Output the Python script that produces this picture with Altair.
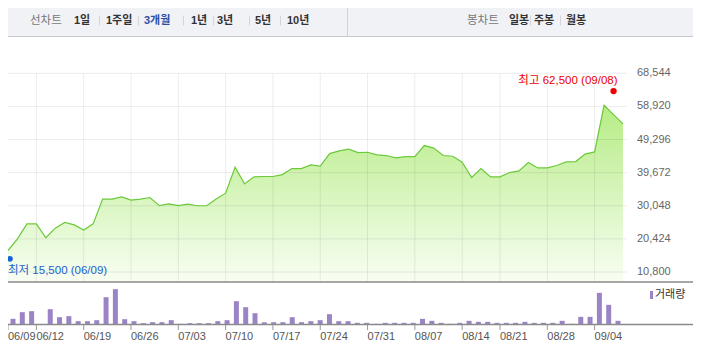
import altair as alt
import pandas as pd

# ---------------- data ----------------
prices = [17050, 20450, 24800, 24800, 20750, 23550, 25200, 24500, 23000, 24800,
          32000, 32000, 32650, 31700, 32000, 32450, 30100, 30600, 30100, 30550,
          30050, 30050, 32050, 33700, 41250, 36400, 38450, 38550, 38550, 39100,
          40850, 40850, 41950, 41550, 45200, 46000, 46500, 45500, 45600, 44850,
          44650, 43950, 44350, 44350, 47550, 46800, 44650, 44450, 42700, 38250,
          40850, 38450, 38450, 39700, 40200, 42600, 41050, 41050, 41750, 42800,
          42900, 45050, 45700, 59250, 56550, 53850]
volumes = [17, 37, 40, 0, 46, 22, 25, 10, 10, 13,
           82, 106, 16, 10, 4, 7, 7, 13, 2, 4,
           4, 4, 10, 13, 70, 52, 34, 7, 7, 7,
           22, 7, 10, 13, 31, 10, 10, 5, 5, 2,
           5, 5, 5, 5, 17, 11, 5, 2, 5, 11,
           8, 8, 5, 5, 5, 8, 5, 5, 5, 11,
           2, 23, 23, 95, 59, 11]
price_ticks = [10800, 20424, 30048, 39672, 49296, 58920, 68544]
date_labels = ["06/09", "06/12", "06/19", "06/26", "07/03", "07/10", "07/17",
               "07/24", "07/31", "08/07", "08/14", "08/21", "08/28", "09/04"]
date_index = [0, 3, 8, 13, 18, 23, 28, 33, 38, 43, 48, 52, 57, 62]
min_label, min_value, min_index = "최저 15,500 (06/09)", 15500, 0
max_label, max_value, max_index = "최고 62,500 (09/08)", 62500, 64
line_title = "선차트"
period_menu = ["1일", "1주일", "3개월", "1년", "3년", "5년", "10년"]
candle_title = "봉차트"
candle_menu = ["일봉", "주봉", "월봉"]
legend_label = "거래량"

# ---------------- layout ----------------
W, H = 685, 338
X_RANGE = [0, 615]
PRICE_DOMAIN = [7900, 68544]
PRICE_RANGE = [274, 65.3]
VOL_DOMAIN = [0, 106]
VOL_RANGE = [316.5, 281.2]
GRID_RIGHT = 619
CONTENT_RIGHT = 688
AXIS_Y = 274
VOL_BASE = 316.5
HEADER_BOTTOM = 28
period_x = [66, 98, 136, 183, 209, 247, 279]
candle_x = [501, 526, 558]
sep_x = [91, 130, 175, 205, 241, 272, 522, 552]
FONT = "Liberation Sans, Noto Sans CJK KR"
KFONT = "Noto Sans CJK KR, Liberation Sans"

xs = alt.Scale(domain=[0, len(prices) - 1], range=X_RANGE, nice=False, zero=False)
ps = alt.Scale(domain=PRICE_DOMAIN, range=PRICE_RANGE, nice=False, zero=False)
vs = alt.Scale(domain=VOL_DOMAIN, range=VOL_RANGE, nice=False, zero=True)

df = pd.DataFrame({"idx": list(range(len(prices))), "price": prices, "vol": volumes,
                   "base": PRICE_DOMAIN[0]})
one = pd.DataFrame({"a": [0]})

layers = []

# header
layers.append(alt.Chart(one).mark_rect(color="#f1f2f6").encode(
    x=alt.value(0), x2=alt.value(CONTENT_RIGHT), y=alt.value(0), y2=alt.value(HEADER_BOTTOM)))
layers.append(alt.Chart(one).mark_rule(color="#c4c7cd", strokeWidth=1).encode(
    x=alt.value(0), x2=alt.value(CONTENT_RIGHT), y=alt.value(HEADER_BOTTOM + 0.5)))
layers.append(alt.Chart(one).mark_rule(color="#cfd2d7", strokeWidth=1).encode(
    x=alt.value(339.5), y=alt.value(0), y2=alt.value(HEADER_BOTTOM)))
for sx in sep_x:
    layers.append(alt.Chart(one).mark_rule(color="#d3d5da", strokeWidth=1).encode(
        x=alt.value(sx + 0.5), y=alt.value(7.5), y2=alt.value(17.5)))
layers.append(alt.Chart(one).mark_text(text=line_title, font=KFONT, fontSize=11.5, color="#777",
                                       align="left", baseline="middle").encode(
    x=alt.value(22), y=alt.value(13)))
layers.append(alt.Chart(one).mark_text(text=candle_title, font=KFONT, fontSize=11.5, color="#777",
                                       align="left", baseline="middle").encode(
    x=alt.value(459), y=alt.value(13)))
for lab, px in zip(period_menu + candle_menu, period_x + candle_x):
    col = "#2b4fa6" if lab == "3개월" else "#333333"
    layers.append(alt.Chart(one).mark_text(text=lab, font=FONT, fontSize=11, fontWeight="bold",
                                           color=col, align="left", baseline="middle").encode(
        x=alt.value(px), y=alt.value(13)))

# price area
grad = alt.Gradient(gradient="linear",
                    stops=[alt.GradientStop(color="#b6ec85", offset=0),
                           alt.GradientStop(color="#f8fef3", offset=1)],
                    x1=0, x2=0, y1=0, y2=1)
X = alt.X("idx:Q", scale=xs, axis=None)
layers.append(alt.Chart(df).mark_area(color=grad).encode(
    x=X, y=alt.Y("price:Q", scale=ps, axis=None), y2="base:Q"))

# gridlines
layers.append(alt.Chart(pd.DataFrame({"v": price_ticks})).mark_rule(color="black", opacity=0.075).encode(
    y=alt.Y("v:Q", scale=ps, axis=None), x=alt.value(0), x2=alt.value(GRID_RIGHT)))
vdf = pd.DataFrame({"idx": date_index[1:], "top": price_ticks[-1], "bot": PRICE_DOMAIN[0]})
layers.append(alt.Chart(vdf).mark_rule(color="black", opacity=0.075).encode(
    x=alt.X("idx:Q", scale=xs, axis=None), y=alt.Y("top:Q", scale=ps, axis=None), y2="bot:Q"))

# price line
layers.append(alt.Chart(df).mark_line(color="#6bc93a", strokeWidth=1.2).encode(
    x=X, y=alt.Y("price:Q", scale=ps, axis=None)))

# volume bars
layers.append(alt.Chart(df).mark_bar(size=5, color="#9b84c6").encode(
    x=X, y=alt.Y("vol:Q", scale=vs, axis=None)))

# axis lines
for yy in [AXIS_Y, VOL_BASE]:
    layers.append(alt.Chart(one).mark_rule(color="#8a8a8a", strokeWidth=1.5).encode(
        x=alt.value(0), x2=alt.value(CONTENT_RIGHT), y=alt.value(yy)))

# date ticks & labels
ddf = pd.DataFrame({"idx": date_index, "label": date_labels})
layers.append(alt.Chart(ddf).mark_rule(color="#999", strokeWidth=1).encode(
    x=alt.X("idx:Q", scale=xs, axis=None), y=alt.value(VOL_BASE + 0.5), y2=alt.value(322)))
layers.append(alt.Chart(ddf).mark_text(font=FONT, fontSize=11, color="#555",
                                       align="left", baseline="middle").encode(
    x=alt.X("idx:Q", scale=xs, axis=None), y=alt.value(329), text="label:N"))

# price labels (right)
layers.append(alt.Chart(pd.DataFrame({"v": price_ticks})).mark_text(
    font=FONT, fontSize=11, color="#666", align="left", baseline="middle").encode(
    y=alt.Y("v:Q", scale=ps, axis=None), x=alt.value(629), text=alt.Text("v:Q", format=",")))

# min / max markers
mn = pd.DataFrame({"idx": [min_index], "v": [min_value], "label": [min_label]})
mx = pd.DataFrame({"idx": [max_index], "v": [max_value], "label": [max_label]})
layers.append(alt.Chart(mn).mark_circle(size=32, color="#1565d8", opacity=1, xOffset=2, yOffset=3).encode(
    x=alt.X("idx:Q", scale=xs, axis=None), y=alt.Y("v:Q", scale=ps, axis=None)))
layers.append(alt.Chart(mn).mark_text(font=FONT, fontSize=11.5, color="#1d5fcf", align="left",
                                      baseline="middle", dy=15).encode(
    x=alt.X("idx:Q", scale=xs, axis=None), y=alt.Y("v:Q", scale=ps, axis=None), text="label:N"))
layers.append(alt.Chart(mx).mark_circle(size=40, color="#f00000", opacity=1, yOffset=-3).encode(
    x=alt.X("idx:Q", scale=xs, axis=None), y=alt.Y("v:Q", scale=ps, axis=None)))
layers.append(alt.Chart(mx).mark_text(font=FONT, fontSize=11.5, color="#ee0000", align="right",
                                      baseline="middle", dx=4, dy=-13).encode(
    x=alt.X("idx:Q", scale=xs, axis=None), y=alt.Y("v:Q", scale=ps, axis=None), text="label:N"))

# legend
layers.append(alt.Chart(one).mark_rect(color="#9b84c6").encode(
    x=alt.value(642), x2=alt.value(645), y=alt.value(283), y2=alt.value(291)))
layers.append(alt.Chart(one).mark_text(text=legend_label, font=KFONT, fontSize=11, color="#333",
                                       align="left", baseline="middle").encode(
    x=alt.value(647), y=alt.value(287)))

chart = alt.layer(*layers).resolve_scale(x="independent", y="independent").properties(
    width=W, height=H, padding=0, autosize=alt.AutoSizeParams(type="none"), background="white"
).configure_view(stroke=None)

chart.save("out.html", embed_options={"renderer": "svg", "actions": False})
